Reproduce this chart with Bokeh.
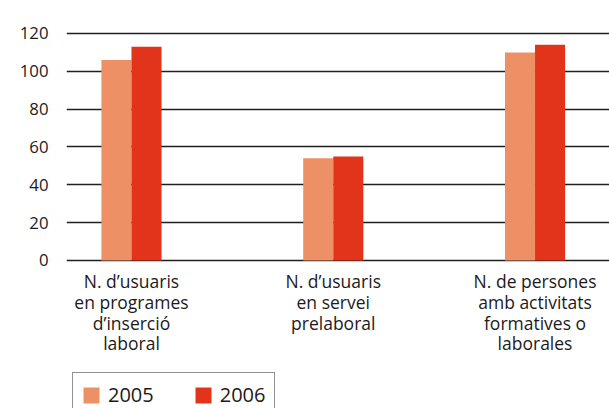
from bokeh.plotting import figure
from bokeh.models import ColumnDataSource, FixedTicker, Legend, LegendItem, Range1d
from bokeh.core.properties import value
from bokeh.transform import dodge
from bokeh.embed import file_html
from bokeh.resources import INLINE

categories = [
    "N. d\u2019usuaris\nen programes\nd\u2019inserci\u00f3\nlaboral",
    "N. d\u2019usuaris\nen servei\nprelaboral",
    "N. de persones\namb activitats\nformatives o\nlaborales",
]
values_2005 = [106, 54, 110]
values_2006 = [113, 55, 114]
y_ticks = [0, 20, 40, 60, 80, 100, 120]

positions = list(range(len(categories)))
src = ColumnDataSource(dict(x=positions, v2005=values_2005, v2006=values_2006,
                            label=categories, base=[0] * len(categories)))

FONT = "Open Sans"
TXT = "#1d1a1b"
C2005 = "#EE9066"
C2006 = "#E2341B"

# frame spans the whole canvas height so the legend below the labels is visible
p = figure(width=609, height=408, output_backend="svg", toolbar_location=None,
           x_range=Range1d(-0.322, 2.369), y_range=Range1d(-78.24, 137.44))
p.min_border_left = 66
p.min_border_right = 0
p.min_border_top = 0
p.min_border_bottom = 0
p.outline_line_color = None

r1 = p.vbar(x=dodge("x", -0.0745, range=p.x_range), top="v2005", width=0.149, source=src,
            fill_color=C2005, line_color=None)
r2 = p.vbar(x=dodge("x", 0.0745, range=p.x_range), top="v2006", width=0.149, source=src,
            fill_color=C2006, line_color=None)

p.text(x="x", y="base", text="label", source=src, y_offset=9,
       text_align="center", text_baseline="top",
       text_font=value(FONT), text_font_size="17.5px", text_color=TXT,
       text_line_height=0.86)

p.ygrid.level = "underlay"
p.xgrid.grid_line_color = None
p.ygrid.ticker = FixedTicker(ticks=y_ticks)
p.ygrid.grid_line_color = "#231f20"
p.ygrid.grid_line_width = 1.6

p.yaxis.ticker = FixedTicker(ticks=y_ticks)
p.yaxis.axis_line_color = None
p.yaxis.major_tick_line_color = None
p.yaxis.minor_tick_line_color = None
p.yaxis.major_label_text_font = FONT
p.yaxis.major_label_text_font_size = "16.8px"
p.yaxis.major_label_text_color = TXT
p.yaxis.major_label_standoff = 12

p.xaxis.visible = False

legend = Legend(items=[LegendItem(label="2005", renderers=[r1]),
                       LegendItem(label="2006", renderers=[r2])],
                orientation="horizontal", location=(6, -9), margin=0,
                padding=8, spacing=39, label_standoff=7,
                glyph_width=20, glyph_height=20, label_height=20,
                label_text_font=FONT, label_text_font_size="20px",
                label_text_line_height=0.7,
                label_text_color=TXT,
                border_line_color="#231f20", border_line_width=1.5,
                background_fill_alpha=1)
p.add_layout(legend, "center")

open("out.html", "w").write(file_html(p, INLINE))
